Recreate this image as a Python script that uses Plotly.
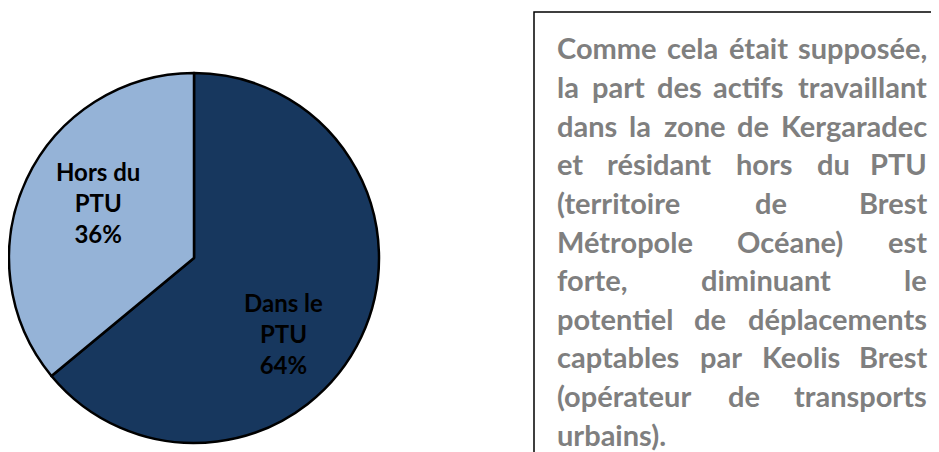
import plotly.graph_objects as go

# pie data
labels = ["Dans le<br>PTU", "Hors du<br>PTU"]
values = [64, 36]
colors = ["#17375E", "#95B3D7"]

# note text, one entry per printed line (last line is not justified)
note_lines = [
    "Comme cela était supposée,",
    "la part des actifs travaillant",
    "dans la zone de Kergaradec",
    "et résidant hors du PTU",
    "(territoire de Brest",
    "Métropole Océane) est",
    "forte, diminuant le",
    "potentiel de déplacements",
    "captables par Keolis Brest",
    "(opérateur de transports",
    "urbains).",
]

# the page body has an 8px margin, so the figure is sized to the window minus it
OFF = 8
W, H = 939 - OFF, 452 - OFF


def px(x):
    return (x - OFF) / W


def py(y):
    return 1 - (y - OFF) / H


NOTE_SIZE = 29
NOTE_COLOR = "#7F7F7F"
LEFT, RIGHT = 556, 928      # text block edges, page px
TOP, STEP = 48, 38.6        # first line centre and line pitch, page px

# rough advance widths (em) for Lato Bold
char_w = {
    "a": .53, "b": .57, "c": .46, "d": .57, "e": .53, "é": .53, "f": .34, "g": .51,
    "h": .57, "i": .26, "j": .26, "k": .52, "l": .26, "m": .86, "n": .57, "o": .57,
    "p": .57, "q": .57, "r": .38, "s": .43, "t": .36, "u": .57, "v": .51, "w": .78,
    "x": .51, "y": .51, "z": .45, "B": .62, "C": .64, "K": .64, "M": .84, "O": .74,
    "P": .60, "T": .56, "U": .70, "(": .30, ")": .30, ",": .24, ".": .24,
}


def word_width(s):
    return sum(char_w.get(c, .55) for c in s) * NOTE_SIZE


fig = go.Figure()
fig.add_trace(go.Pie(
    labels=labels, values=values, sort=False, direction="clockwise", rotation=0,
    marker=dict(colors=colors, line=dict(color="black", width=2.5)),
    textinfo="none", hoverinfo="label+percent",
    domain=dict(x=[px(9), px(379)], y=[py(443), py(73)]),
))

# slice labels (page px of the label centres)
label_pos = [(283, 333), (98, 202)]
total = sum(values)
annotations = []
for lab, v, (lx, ly) in zip(labels, values, label_pos):
    annotations.append(dict(
        text=f"{lab}<br>{round(100 * v / total)}%", x=px(lx), y=py(ly),
        xref="paper", yref="paper", xanchor="center", yanchor="middle",
        showarrow=False, align="center",
        font=dict(family="Lato", size=24, color="black", weight="bold")))

for i, line in enumerate(note_lines):
    yp = py(TOP + STEP * i)
    words = line.split()
    font = dict(family="Lato", size=NOTE_SIZE, color=NOTE_COLOR, weight="bold")
    if i == len(note_lines) - 1 or len(words) == 1:
        annotations.append(dict(text=line, x=px(LEFT), y=yp, xref="paper", yref="paper",
                                xanchor="left", yanchor="middle", showarrow=False,
                                font=font, borderpad=0))
        continue
    widths = [word_width(w) for w in words]
    gap = (RIGHT - LEFT - sum(widths)) / (len(words) - 1)
    x = LEFT
    for j, (w, ww) in enumerate(zip(words, widths)):
        if j == 0:
            xp, anchor = LEFT, "left"
        elif j == len(words) - 1:
            xp, anchor = RIGHT, "right"
        else:
            xp, anchor = x + ww / 2, "center"
        annotations.append(dict(text=w, x=px(xp), y=yp, xref="paper", yref="paper",
                                xanchor=anchor, yanchor="middle", showarrow=False,
                                font=font, borderpad=0))
        x += ww + gap

fig.update_layout(
    width=W, height=H, margin=dict(l=0, r=0, t=0, b=0),
    paper_bgcolor="white", plot_bgcolor="white", showlegend=False,
    annotations=annotations,
    shapes=[dict(type="rect", xref="paper", yref="paper",
                 x0=px(534), x1=1.01, y0=-0.01, y1=py(12),
                 line=dict(color="black", width=1.5), fillcolor="rgba(0,0,0,0)")],
)

fig.write_html("out.html")
